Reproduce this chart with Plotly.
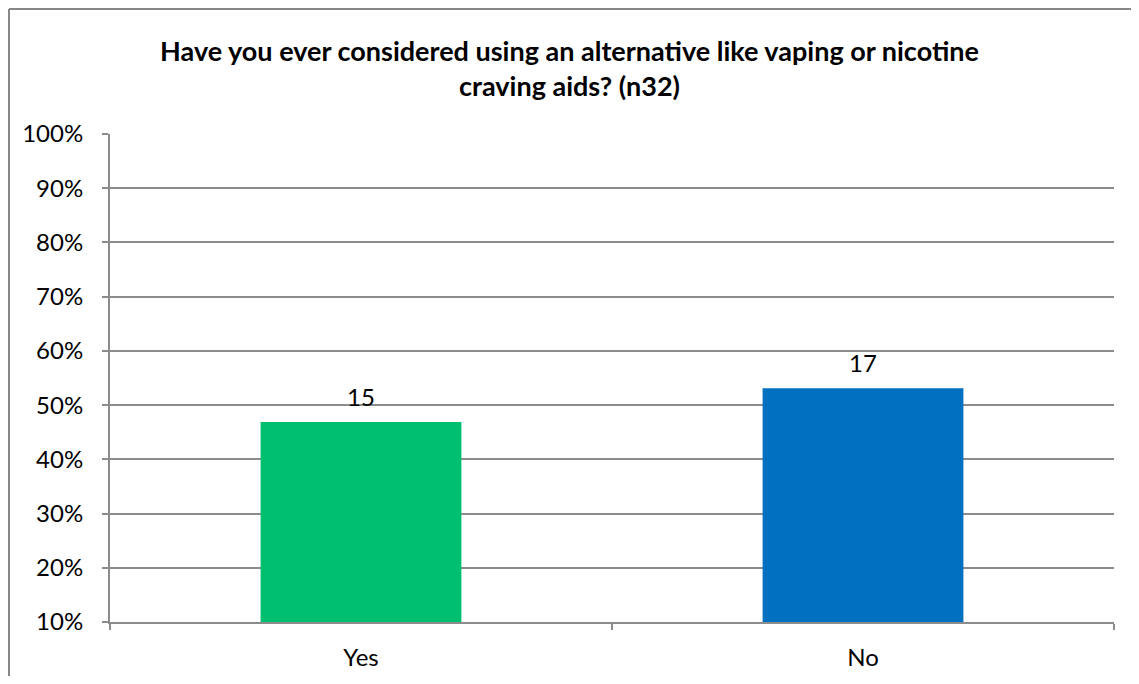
import plotly.graph_objects as go

categories = ["Yes", "No"]
counts = [15, 17]
n_total = 32
shares = [c / n_total for c in counts]
colors = ["#00BF6F", "#0070C0"]
tick_vals = [0.1, 0.2, 0.3, 0.4, 0.5, 0.6, 0.7, 0.8, 0.9, 1.0]
tick_text = ["10%", "20%", "30%", "40%", "50%", "60%", "70%", "80%", "90%", "100%"]
title_text = "Have you ever considered using an alternative like vaping or nicotine<br>craving aids? (n32)"

FONT = "Lato"
GRID = "#8C8C8C"
TICK_SIZE = 24

W, H = 1123, 668
L, R, T, B = 102, 17, 126, 54
PW, PH = W - L - R, H - T - B

fig = go.Figure()
fig.add_trace(go.Bar(
    x=categories, y=shares, marker=dict(color=colors, line=dict(width=0)),
    width=0.4, hoverinfo="skip", showlegend=False,
))

for cat, val, cnt in zip(categories, shares, counts):
    fig.add_annotation(x=cat, y=val, text=str(cnt), showarrow=False,
                       yanchor="middle", yshift=26,
                       font=dict(family=FONT, size=TICK_SIZE, color="#000000"))

bx = -(L - 1) / PW
by = 1 + (T - 1) / PH
fig.update_layout(
    width=W, height=H,
    margin=dict(l=L, r=R, t=T, b=B, autoexpand=False),
    paper_bgcolor="white", plot_bgcolor="white",
    title=dict(text="<b>" + title_text + "</b>", x=0.5, xanchor="center",
               y=1 - 52.5 / H, yanchor="middle",
               font=dict(family=FONT, size=27, color="#000000")),
    xaxis=dict(type="category", showline=True, linecolor=GRID, linewidth=2,
               ticks="outside", tickson="boundaries", ticklen=6, tickcolor=GRID, tickwidth=2,
               tickfont=dict(family=FONT, size=TICK_SIZE, color="#000000"),
               ticklabelstandoff=13, showgrid=False),
    yaxis=dict(range=[0.1, 1.0], tickvals=tick_vals, ticktext=tick_text,
               showline=True, linecolor=GRID, linewidth=2,
               ticks="outside", ticklen=6, tickcolor=GRID, tickwidth=2,
               showgrid=True, gridcolor=GRID, gridwidth=2,
               tickfont=dict(family=FONT, size=TICK_SIZE, color="#000000"),
               ticklabelstandoff=14, zeroline=False),
    shapes=[
        dict(type="line", xref="paper", yref="paper", x0=bx, x1=bx, y0=-0.5, y1=by,
             line=dict(color="#878787", width=2)),
        dict(type="line", xref="paper", yref="paper", x0=bx, x1=1.5, y0=by, y1=by,
             line=dict(color="#878787", width=2)),
    ],
)

fig.write_html("out.html")
